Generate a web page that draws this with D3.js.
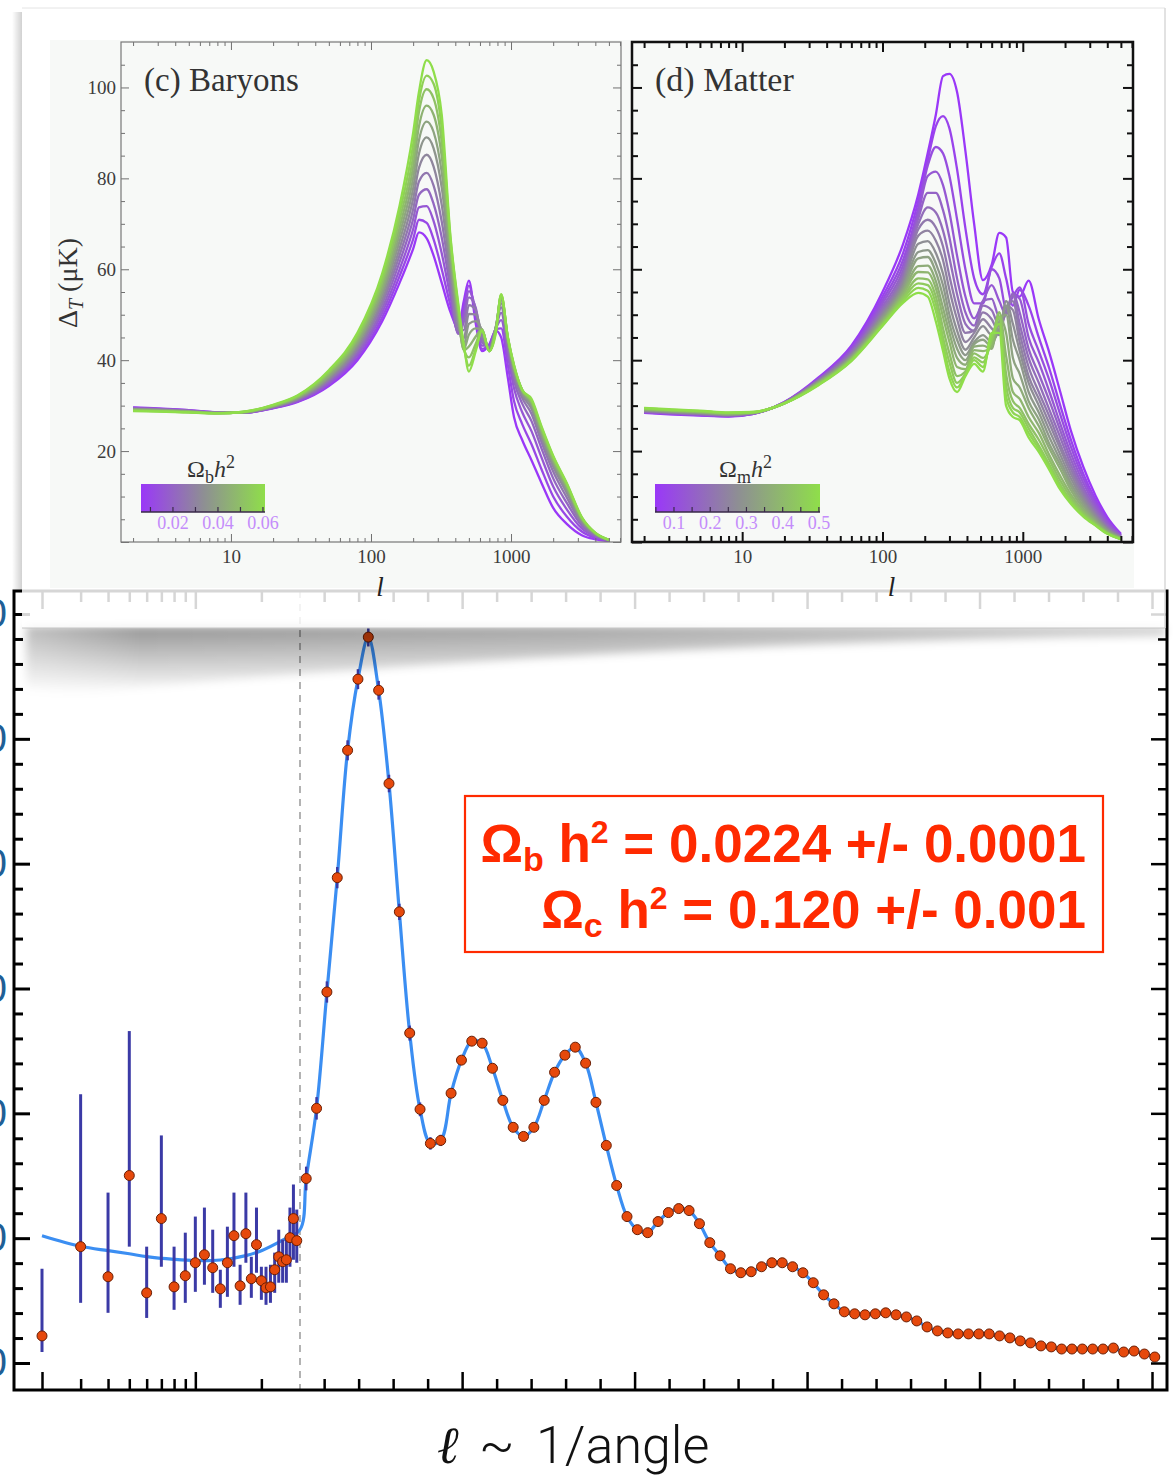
<!DOCTYPE html>
<html>
<head>
<meta charset="utf-8">
<script src="https://cdn.jsdelivr.net/npm/d3@7/dist/d3.min.js"></script>
<style>
  body { margin: 0; background: #ffffff; }
  svg { display: block; }
</style>
</head>
<body>
<svg id="chart" width="1173" height="1475"></svg>
<script>
// ---------- bottom chart: measured TT spectrum, D_l in uK^2 ----------
const lowEll = [2, 3, 4, 5, 6, 7, 8, 9, 10, 11, 12, 13, 14, 15, 16, 17, 18, 19, 20, 21, 22, 23, 24, 25, 26, 27, 28, 29];
const lowDl = [217, 932, 691, 1502, 562, 1157, 610, 699, 803, 867, 763, 594, 803, 1020, 618, 1036, 675, 948, 659, 602, 610, 747, 851, 811, 827, 1004, 1157, 980];
const lowDlLo = [88, 482, 402, 932, 361, 771, 426, 482, 570, 627, 562, 442, 530, 771, 466, 803, 522, 723, 506, 466, 482, 562, 643, 643, 643, 771, 827, 803];
const lowDlHi = [755, 2153, 1365, 2659, 932, 1823, 932, 1044, 1173, 1245, 1068, 747, 1092, 1365, 787, 1365, 851, 1245, 771, 771, 787, 884, 1068, 988, 1012, 1245, 1430, 1229];

const binEll = [48, 78, 108, 138, 168, 198, 228, 258, 288, 318, 348, 378, 408, 438, 468, 498, 528, 558, 588, 618,
  648, 678, 708, 738, 768, 798, 828, 858, 888, 918, 948, 978, 1008, 1038, 1068, 1098, 1128, 1158, 1188, 1218,
  1248, 1278, 1308, 1338, 1368, 1398, 1428, 1458, 1488, 1518, 1548, 1578, 1608, 1638, 1668, 1698, 1728, 1758, 1788, 1818,
  1848, 1878, 1908, 1938, 1968, 1998, 2028, 2058, 2088, 2118, 2148, 2178, 2208, 2238, 2268, 2298, 2328, 2358, 2388, 2418,
  2448, 2478, 2508];
const binDl = [1478, 2040, 2972, 3888, 4908, 5478, 5815, 5389, 4642, 3614,
  2643, 2032, 1759, 1783, 2161, 2426, 2578, 2562, 2361, 2104,
  1888, 1815, 1888, 2104, 2329, 2466, 2530, 2402, 2088, 1743,
  1422, 1173, 1068, 1044, 1133, 1205, 1237, 1221, 1116, 964,
  859, 755, 723, 731, 771, 803, 803, 771, 723, 643,
  546, 474, 410, 394, 386, 394, 402, 386, 369, 337,
  289, 257, 241, 233, 233, 233, 233, 217, 201, 177,
  161, 137, 129, 112, 112, 112, 112, 112, 120, 88,
  96, 72, 48];
const binErr = [95, 90, 85, 85, 80, 80, 75, 75, 70, 65, 60, 55, 50, 45];

const modelEll = [2, 3, 4, 5, 6, 8, 10, 13, 17, 20, 25, 30];
const modelDl = [1020, 935, 900, 875, 852, 830, 820, 825, 860, 900, 985, 1068];

const dlTicks = [0, 1000, 2000, 3000, 4000, 5000, 6000];

// ---------- top panels: Delta_T (uK) vs l ----------
const panelTicks = [10, 100, 1000];
const deltaTTicks = [20, 40, 60, 80, 100];

// (c) baryons, 12 curves, purple (low) -> green (high)
const baryonEll = [2, 3, 5, 8, 12, 20, 30, 50, 80, 120, 160, 200, 220, 250, 280, 320, 370, 420, 460, 500,
  560, 620, 700, 780, 850, 950, 1050, 1200, 1400, 1650, 2000, 2500, 3200, 4000, 5000];
const baryonRows = [
  [29.6, 29.5, 29.5, 29.4, 29.3, 29.2, 29.2, 29.1, 29.0, 28.9, 28.9, 28.8],
  [29.4, 29.3, 29.3, 29.2, 29.1, 29.1, 29.0, 28.9, 28.9, 28.8, 28.8, 28.7],
  [29.0, 29.0, 28.9, 28.9, 28.8, 28.8, 28.7, 28.7, 28.6, 28.6, 28.5, 28.5],
  [28.5, 28.5, 28.5, 28.4, 28.4, 28.4, 28.4, 28.4, 28.3, 28.3, 28.3, 28.3],
  [28.4, 28.4, 28.4, 28.4, 28.5, 28.5, 28.5, 28.5, 28.5, 28.6, 28.6, 28.6],
  [29.4, 29.5, 29.5, 29.6, 29.7, 29.8, 29.8, 29.9, 30.0, 30.0, 30.1, 30.2],
  [30.8, 30.9, 31.1, 31.2, 31.4, 31.5, 31.6, 31.8, 31.9, 32.0, 32.2, 32.3],
  [34.3, 34.6, 34.9, 35.3, 35.6, 35.9, 36.2, 36.5, 36.9, 37.2, 37.5, 37.8],
  [40.0, 40.5, 41.1, 41.6, 42.2, 42.7, 43.3, 43.8, 44.4, 44.9, 45.5, 46.0],
  [48.5, 49.4, 50.4, 51.3, 52.3, 53.2, 54.2, 55.1, 56.1, 57.0, 58.0, 59.0],
  [57.0, 58.5, 60.0, 61.6, 63.1, 64.6, 66.2, 67.7, 69.2, 70.8, 72.4, 74.0],
  [64.5, 66.6, 68.8, 71.0, 73.2, 75.5, 77.8, 80.1, 82.5, 84.9, 87.4, 90.0],
  [68.1, 70.9, 73.6, 76.4, 79.3, 82.3, 85.4, 88.4, 91.4, 94.6, 97.0, 99.0],
  [66.8, 70.2, 73.9, 77.6, 81.2, 85.2, 89.0, 92.5, 96.0, 99.6, 102.6, 106.0],
  [63.0, 66.6, 70.6, 74.4, 78.4, 82.6, 86.6, 90.2, 94.0, 97.6, 100.8, 103.5],
  [57.0, 60.0, 63.5, 67.0, 70.5, 74.2, 78.0, 81.3, 84.8, 88.0, 91.0, 94.0],
  [50.5, 52.0, 53.8, 55.6, 57.4, 59.4, 61.2, 62.8, 64.4, 65.6, 66.5, 67.0],
  [47.0, 46.4, 45.9, 45.8, 46.5, 47.5, 48.5, 49.4, 50.3, 51.2, 51.9, 52.5],
  [53.0, 51.5, 50.0, 48.4, 46.6, 44.8, 43.3, 42.4, 42.2, 42.5, 43.0, 43.5],
  [57.5, 56.4, 55.2, 53.8, 52.1, 50.2, 48.0, 45.6, 43.0, 40.6, 38.8, 37.5],
  [48.0, 49.5, 51.0, 51.5, 51.0, 50.0, 48.6, 47.0, 45.2, 43.6, 42.5, 42.0],
  [42.0, 42.5, 43.2, 44.0, 45.0, 46.0, 46.6, 46.8, 46.8, 46.7, 46.6, 46.5],
  [43.5, 43.4, 43.2, 42.9, 42.6, 42.3, 42.0, 42.0, 42.0, 42.0, 42.0, 42.0],
  [46.5, 46.8, 47.0, 47.2, 47.3, 47.4, 47.4, 47.2, 47.0, 46.8, 46.4, 46.0],
  [45.0, 47.0, 48.8, 50.4, 51.6, 52.5, 53.2, 53.7, 54.0, 54.3, 54.4, 54.5],
  [36.0, 38.8, 41.0, 42.4, 43.3, 43.9, 44.3, 44.6, 44.8, 44.9, 45.0, 45.0],
  [27.5, 31.0, 33.8, 35.5, 36.6, 37.3, 37.8, 38.2, 38.5, 38.7, 38.9, 39.0],
  [22.5, 26.0, 28.6, 30.5, 31.7, 32.4, 32.9, 33.2, 33.4, 33.5, 33.5, 33.5],
  [18.0, 21.5, 24.4, 26.6, 28.2, 29.3, 30.0, 30.5, 30.8, 31.0, 31.2, 31.5],
  [13.0, 16.0, 18.6, 20.6, 22.0, 23.0, 23.7, 24.2, 24.6, 24.9, 25.2, 25.5],
  [7.5, 10.0, 12.2, 14.0, 15.5, 16.6, 17.3, 17.8, 18.2, 18.5, 18.8, 19.0],
  [4.0, 5.6, 7.2, 8.6, 9.8, 10.8, 11.5, 12.0, 12.3, 12.6, 12.8, 13.0],
  [1.5, 2.3, 3.0, 3.6, 4.1, 4.5, 4.8, 5.0, 5.2, 5.3, 5.4, 5.5],
  [0.6, 0.9, 1.2, 1.4, 1.6, 1.7, 1.8, 1.9, 1.9, 2.0, 2.0, 2.0],
  [0.2, 0.25, 0.3, 0.3, 0.35, 0.4, 0.4, 0.4, 0.45, 0.45, 0.5, 0.5]
];
const baryonLegendTicks = [0.02, 0.04, 0.06];

// (d) matter, 17 curves, purple (low) -> green (high)
const matterEll = [2, 3, 5, 8, 12, 20, 35, 60, 100, 140, 180, 210, 240, 270, 300, 340, 390, 450, 520, 600,
  680, 760, 850, 950, 1100, 1300, 1550, 1850, 2200, 2700, 3300, 4000, 5000];
const matterRows = [
  [28.4, 28.5, 28.6, 28.6, 28.7, 28.8, 28.8, 28.9, 29.0, 29.0, 29.1, 29.2, 29.2, 29.3, 29.4, 29.4, 29.5],
  [28.1, 28.2, 28.3, 28.3, 28.4, 28.5, 28.5, 28.6, 28.7, 28.7, 28.8, 28.9, 28.9, 29.0, 29.1, 29.1, 29.2],
  [27.8, 27.9, 28.0, 28.0, 28.1, 28.2, 28.2, 28.3, 28.4, 28.4, 28.5, 28.6, 28.6, 28.7, 28.8, 28.8, 28.9],
  [27.6, 27.7, 27.7, 27.8, 27.8, 27.9, 27.9, 28.0, 28.0, 28.1, 28.1, 28.2, 28.3, 28.3, 28.4, 28.4, 28.5],
  [28.2, 28.2, 28.2, 28.3, 28.3, 28.3, 28.3, 28.4, 28.4, 28.4, 28.4, 28.5, 28.5, 28.5, 28.5, 28.6, 28.6],
  [30.8, 30.8, 30.7, 30.7, 30.7, 30.7, 30.6, 30.6, 30.6, 30.6, 30.6, 30.5, 30.5, 30.5, 30.5, 30.5, 30.5],
  [36.2, 36.0, 35.9, 35.8, 35.7, 35.6, 35.5, 35.4, 35.3, 35.2, 35.1, 35.0, 34.9, 34.8, 34.7, 34.6, 34.5],
  [43.2, 42.9, 42.5, 42.2, 41.9, 41.7, 41.4, 41.2, 41.0, 40.8, 40.6, 40.5, 40.3, 40.2, 40.1, 39.9, 39.8],
  [55.0, 54.0, 53.2, 52.5, 51.8, 51.2, 50.7, 50.2, 49.8, 49.4, 49.0, 48.7, 48.4, 48.1, 47.9, 47.7, 47.5],
  [65.5, 63.5, 62.0, 60.8, 59.7, 58.8, 58.0, 57.3, 56.6, 56.0, 55.4, 54.9, 54.4, 53.9, 53.5, 53.0, 52.6],
  [76.5, 75.0, 73.5, 72.3, 71.2, 70.0, 68.8, 67.4, 65.6, 63.8, 62.4, 60.7, 59.4, 58.0, 56.9, 55.9, 54.8],
  [85.5, 84.0, 82.8, 80.5, 76.8, 73.6, 70.9, 68.5, 66.2, 64.2, 62.7, 60.8, 59.3, 57.8, 56.5, 55.3, 54.0],
  [94.0, 91.5, 86.9, 81.5, 76.8, 72.5, 69.2, 66.3, 63.6, 61.3, 59.4, 57.4, 55.8, 54.0, 52.4, 50.8, 48.5],
  [102.5, 93.7, 85.5, 78.5, 73.0, 68.5, 65.0, 62.0, 59.0, 56.5, 54.0, 51.5, 49.5, 47.0, 45.0, 43.5, 42.0],
  [103.0, 91.0, 80.5, 72.5, 67.0, 62.5, 58.5, 55.5, 52.5, 50.0, 48.0, 46.0, 44.0, 41.5, 39.5, 37.5, 36.0],
  [99.0, 82.0, 71.0, 63.0, 58.0, 54.5, 51.5, 49.0, 46.5, 44.5, 42.5, 40.5, 38.5, 36.5, 35.0, 34.0, 33.0],
  [86.0, 69.0, 60.0, 54.0, 50.5, 48.0, 46.0, 44.0, 42.3, 41.1, 40.0, 39.0, 38.0, 37.5, 37.0, 36.8, 36.5],
  [70.0, 58.0, 52.5, 49.2, 47.6, 46.5, 46.5, 46.0, 45.0, 44.0, 43.5, 43.0, 42.2, 41.5, 40.6, 40.0, 39.2],
  [57.6, 54.5, 52.5, 53.0, 53.0, 52.0, 50.5, 49.0, 47.5, 45.5, 44.5, 43.2, 42.0, 40.5, 39.5, 38.5, 37.5],
  [61.0, 60.5, 60.0, 56.5, 53.5, 51.0, 49.0, 47.0, 45.5, 44.0, 43.0, 42.5, 43.0, 44.0, 44.5, 45.5, 46.0],
  [68.0, 63.5, 58.0, 53.0, 49.5, 47.5, 46.0, 45.5, 46.0, 47.0, 48.5, 49.5, 50.5, 50.5, 49.5, 48.0, 46.0],
  [67.0, 58.0, 51.5, 50.0, 50.0, 50.5, 51.0, 52.0, 53.0, 52.0, 50.0, 46.0, 41.0, 37.0, 34.5, 32.0, 30.0],
  [55.0, 52.0, 54.0, 54.5, 54.8, 54.3, 53.0, 51.0, 48.0, 44.5, 40.5, 36.0, 33.0, 31.0, 29.5, 28.5, 27.5],
  [54.0, 55.5, 56.0, 53.5, 50.5, 48.0, 46.0, 44.0, 42.0, 40.0, 37.0, 34.0, 31.5, 29.5, 28.5, 27.5, 26.8],
  [57.5, 52.0, 48.0, 45.0, 42.5, 40.5, 38.5, 36.5, 35.0, 33.0, 31.0, 29.5, 27.5, 26.0, 25.0, 24.0, 23.0],
  [49.0, 45.0, 42.0, 39.5, 37.0, 35.0, 33.0, 31.5, 30.0, 28.5, 27.0, 25.5, 24.0, 22.5, 21.2, 20.5, 19.8],
  [41.5, 38.0, 35.5, 33.0, 31.0, 29.0, 27.5, 26.0, 24.5, 23.0, 21.5, 20.5, 19.0, 18.0, 17.0, 16.4, 15.8],
  [33.0, 30.0, 28.0, 26.0, 24.5, 23.0, 21.5, 20.5, 19.2, 18.0, 17.0, 16.0, 14.5, 13.5, 12.6, 12.0, 11.5],
  [24.5, 22.5, 21.0, 19.5, 18.2, 17.0, 16.0, 15.0, 14.0, 13.0, 12.2, 11.4, 10.5, 9.8, 9.2, 8.8, 8.4],
  [16.5, 15.0, 14.0, 13.0, 12.0, 11.2, 10.5, 9.8, 9.2, 8.6, 8.0, 7.4, 6.9, 6.4, 6.1, 5.8, 5.6],
  [10.2, 9.3, 8.6, 8.0, 7.4, 6.8, 6.3, 5.9, 5.5, 5.1, 4.8, 4.5, 4.2, 4.0, 3.8, 3.7, 3.6],
  [5.5, 5.0, 4.6, 4.2, 3.8, 3.5, 3.2, 3.0, 2.8, 2.6, 2.4, 2.2, 2.1, 2.0, 1.9, 1.85, 1.8],
  [1.8, 1.6, 1.5, 1.4, 1.3, 1.2, 1.1, 1.0, 0.95, 0.9, 0.85, 0.8, 0.75, 0.7, 0.65, 0.62, 0.6]
];
const matterLegendTicks = [0.1, 0.2, 0.3, 0.4, 0.5];

const serif = '"Liberation Serif", "Times New Roman", serif';
const sans = '"Liberation Sans", Arial, sans-serif';
const svg = d3.select('#chart');
const defs = svg.append('defs');

const purple = '#9a38f8', grey = '#8e8e94', green = '#8fde4a';
const ramp = t => t < 0.5 ? d3.interpolateRgb(purple, grey)(t * 2) : d3.interpolateRgb(grey, green)((t - 0.5) * 2);

// ================= bottom chart =================
const bx = { left: 14, right: 1167, top: 591, bottom: 1390 };
const xLog = d3.scaleLog().domain([2, 30]).range([42, 300]);
const xLin = d3.scaleLinear().domain([30, 2500]).range([300, 1152]);
const xl = l => (l <= 30 ? xLog(l) : xLin(l));
const yDl = d3.scaleLinear().domain([0, 6000]).range([1363, 614]);

const bottom = svg.append('g');

bottom.append('line')
  .attr('x1', xLog(30)).attr('x2', xLog(30))
  .attr('y1', bx.top).attr('y2', bx.bottom)
  .attr('stroke', '#a0a0a0').attr('stroke-width', 1.6).attr('stroke-dasharray', '7,6');

// best-fit model line
const modelPts = modelEll.map((l, i) => [l, modelDl[i]]).concat(binEll.map((l, i) => [l, binDl[i]]));
bottom.append('path')
  .datum(modelPts)
  .attr('d', d3.line().x(d => xl(d[0])).y(d => yDl(d[1])).curve(d3.curveCatmullRom.alpha(0.5)))
  .attr('fill', 'none').attr('stroke', '#3b8ef2').attr('stroke-width', 3.2);

// error bars
bottom.selectAll('line.ebar').data(lowEll).join('line')
  .attr('class', 'ebar')
  .attr('x1', l => xLog(l)).attr('x2', l => xLog(l))
  .attr('y1', (l, i) => yDl(lowDlLo[i])).attr('y2', (l, i) => yDl(lowDlHi[i]))
  .attr('stroke', '#3b3aa6').attr('stroke-width', 3);

bottom.selectAll('line.berr').data(binErr).join('line')
  .attr('class', 'berr')
  .attr('x1', (e, i) => xLin(binEll[i])).attr('x2', (e, i) => xLin(binEll[i]))
  .attr('y1', (e, i) => yDl(binDl[i] - e)).attr('y2', (e, i) => yDl(binDl[i] + e))
  .attr('stroke', '#3b3aa6').attr('stroke-width', 2.5);

const dots = lowEll.map((l, i) => [l, lowDl[i]]).concat(binEll.map((l, i) => [l, binDl[i]]));
bottom.selectAll('circle.pt').data(dots).join('circle')
  .attr('class', 'pt')
  .attr('cx', d => xl(d[0])).attr('cy', d => yDl(d[1]))
  .attr('r', 5)
  .attr('fill', '#e6490c').attr('stroke', '#6a1f05').attr('stroke-width', 1);

// axes
function blackTicks(sel, w) {
  sel.select('.domain').remove();
  sel.selectAll('.tick line').attr('stroke', '#000').attr('stroke-width', w);
}
const yMinor = d3.range(200, 6000, 200).filter(v => v % 1000 !== 0);
bottom.append('g').attr('transform', `translate(${bx.left},0)`)
  .call(d3.axisLeft(yDl).tickValues(dlTicks).tickSize(-16).tickPadding(7).tickFormat(d3.format('d')))
  .call(s => blackTicks(s, 3))
  .call(s => s.selectAll('text').attr('font-family', sans).attr('font-size', 40).attr('fill', '#1f5f96'));
bottom.append('g').attr('transform', `translate(${bx.left},0)`)
  .call(d3.axisLeft(yDl).tickValues(yMinor).tickSize(-9).tickFormat(''))
  .call(s => blackTicks(s, 3));
bottom.append('g').attr('transform', `translate(${bx.right},0)`)
  .call(d3.axisRight(yDl).tickValues(dlTicks).tickSize(-16).tickFormat(''))
  .call(s => blackTicks(s, 2.5));
bottom.append('g').attr('transform', `translate(${bx.right},0)`)
  .call(d3.axisRight(yDl).tickValues(yMinor).tickSize(-9).tickFormat(''))
  .call(s => blackTicks(s, 2.5));

const logMajor = [2, 10], logMinor = [3, 4, 5, 6, 7, 8, 9, 20];
const linMajor = [500, 1000, 1500, 2000, 2500];
const linMinor = d3.range(100, 2500, 100).filter(v => v % 500 !== 0);
[[bx.bottom, d3.axisBottom], [bx.top, d3.axisTop]].forEach(([yy, ax]) => {
  bottom.append('g').attr('transform', `translate(0,${yy})`)
    .call(ax(xLog).tickValues(logMajor).tickSize(-18).tickFormat('')).call(s => blackTicks(s, 2.5));
  bottom.append('g').attr('transform', `translate(0,${yy})`)
    .call(ax(xLog).tickValues(logMinor).tickSize(-11).tickFormat('')).call(s => blackTicks(s, 2.5));
  bottom.append('g').attr('transform', `translate(0,${yy})`)
    .call(ax(xLin).tickValues(linMajor).tickSize(-18).tickFormat('')).call(s => blackTicks(s, 2.5));
  bottom.append('g').attr('transform', `translate(0,${yy})`)
    .call(ax(xLin).tickValues(linMinor).tickSize(-11).tickFormat('')).call(s => blackTicks(s, 2.5));
});

bottom.append('rect')
  .attr('x', bx.left).attr('y', bx.top)
  .attr('width', bx.right - bx.left).attr('height', bx.bottom - bx.top)
  .attr('fill', 'none').attr('stroke', '#000').attr('stroke-width', 3);

// parameter box
const red = '#ff2a00';
bottom.append('rect').attr('x', 465).attr('y', 796).attr('width', 638).attr('height', 156)
  .attr('fill', '#fff').attr('stroke', red).attr('stroke-width', 2.2);
function paramLine(y, sub, rest) {
  const t = bottom.append('text').attr('x', 1086).attr('y', y).attr('text-anchor', 'end')
    .attr('font-family', sans).attr('font-weight', 'bold').attr('font-size', 53).attr('fill', red);
  t.append('tspan').text('Ω');
  t.append('tspan').attr('font-size', 34).attr('dy', 9).text(sub);
  t.append('tspan').attr('dy', -9).text(' h');
  t.append('tspan').attr('font-size', 32).attr('dy', -19).text('2');
  t.append('tspan').attr('dy', 19).text(rest);
}
paramLine(862, 'b', ' = 0.0224 +/- 0.0001');
paramLine(928, 'c', ' = 0.120 +/- 0.001');

// x label
bottom.append('text').attr('x', 437).attr('y', 1463)
  .attr('font-family', '"DejaVu Serif", serif').attr('font-style', 'italic').attr('font-size', 52).attr('fill', '#111')
  .text('ℓ');
bottom.append('text').attr('x', 479).attr('y', 1463)
  .attr('font-family', 'Roboto, sans-serif').attr('font-weight', 300).attr('font-size', 52).attr('fill', '#111')
  .text('~');
bottom.append('text').attr('x', 536).attr('y', 1463)
  .attr('font-family', 'Roboto, sans-serif').attr('font-weight', 300).attr('font-size', 52).attr('fill', '#111')
  .text('1/angle');

// ================= card with the two panels =================
const card = { x: 22, y: 8, w: 1143, h: 620 };

// bottom shadow under the card
const sg = defs.append('linearGradient').attr('id', 'shadowGrad').attr('x1', 0).attr('y1', 0).attr('x2', 0).attr('y2', 1);
sg.append('stop').attr('offset', 0).attr('stop-color', '#000').attr('stop-opacity', 0.42);
sg.append('stop').attr('offset', 1).attr('stop-color', '#000').attr('stop-opacity', 0);
const sh = defs.append('linearGradient').attr('id', 'shadowFade').attr('x1', 0).attr('y1', 0).attr('x2', 1).attr('y2', 0);
sh.append('stop').attr('offset', 0).attr('stop-color', '#fff').attr('stop-opacity', 0.55);
sh.append('stop').attr('offset', 0.12).attr('stop-color', '#fff').attr('stop-opacity', 1);
sh.append('stop').attr('offset', 0.5).attr('stop-color', '#fff').attr('stop-opacity', 0.85);
sh.append('stop').attr('offset', 1).attr('stop-color', '#fff').attr('stop-opacity', 0.45);
defs.append('mask').attr('id', 'shadowMask')
  .append('rect').attr('x', 0).attr('y', 600).attr('width', 1173).attr('height', 120).attr('fill', 'url(#shadowFade)');
defs.append('filter').attr('id', 'blur4').attr('x', '-10%').attr('y', '-50%').attr('width', '120%').attr('height', '200%')
  .append('feGaussianBlur').attr('stdDeviation', 4);
svg.append('g').attr('mask', 'url(#shadowMask)')
  .append('path')
  .attr('d', 'M26,626 L1165,626 L1165,636 C950,638 520,650 70,694 L26,688 Z')
  .attr('fill', 'url(#shadowGrad)').attr('filter', 'url(#blur4)');

// left edge shadow
const lg = defs.append('linearGradient').attr('id', 'leftShadow').attr('x1', 0).attr('y1', 0).attr('x2', 1).attr('y2', 0);
lg.append('stop').attr('offset', 0).attr('stop-color', '#000').attr('stop-opacity', 0);
lg.append('stop').attr('offset', 1).attr('stop-color', '#000').attr('stop-opacity', 0.18);
svg.append('rect').attr('x', 12).attr('y', 12).attr('width', 10).attr('height', 580).attr('fill', 'url(#leftShadow)');

svg.append('rect').attr('x', card.x).attr('y', card.y).attr('width', card.w).attr('height', card.h)
  .attr('fill', '#fff').attr('fill-opacity', 0.84);
svg.append('line').attr('x1', card.x).attr('x2', card.x + card.w).attr('y1', card.y).attr('y2', card.y)
  .attr('stroke', '#e4e4e4').attr('stroke-width', 1);
svg.append('line').attr('x1', card.x + card.w).attr('x2', card.x + card.w).attr('y1', card.y).attr('y2', card.y + card.h)
  .attr('stroke', '#d8d8d8').attr('stroke-width', 1.5);
svg.append('line').attr('x1', card.x).attr('x2', card.x + card.w).attr('y1', card.y + card.h).attr('y2', card.y + card.h)
  .attr('stroke', '#c4c4c4').attr('stroke-width', 1);

svg.append('rect').attr('x', 50).attr('y', 40).attr('width', 1084).attr('height', 548).attr('fill', '#f7f9f7');

function drawPanel(p) {
  const g = svg.append('g');
  const top = 42, bot = 542;
  const x = d3.scaleLog().domain([1.64, 6100]).range([p.left, p.right]);
  const y = d3.scaleLinear().domain([0, 110]).range([bot, top]);
  const n = p.rows[0].length;

  defs.append('clipPath').attr('id', 'clip-' + p.id)
    .append('rect').attr('x', p.left).attr('y', top).attr('width', p.right - p.left).attr('height', bot - top);

  const series = d3.range(n).map(i => p.ell.map((l, j) => [l, p.rows[j][i]]));
  const line = d3.line().x(d => x(d[0])).y(d => y(d[1])).curve(d3.curveMonotoneX);
  g.append('g').attr('clip-path', `url(#clip-${p.id})`)
    .selectAll('path').data(series).join('path')
    .attr('d', line)
    .attr('fill', 'none')
    .attr('stroke', (d, i) => ramp(i / (n - 1)))
    .attr('stroke-width', 2.3);

  const tickCol = p.dark ? '#111' : '#707070';
  const tw = p.dark ? 2 : 1;
  const big = p.dark ? 10 : 8, small = p.dark ? 6 : 4;
  const style = s => {
    s.select('.domain').remove();
    s.selectAll('.tick line').attr('stroke', tickCol).attr('stroke-width', tw);
    s.selectAll('text').attr('font-family', serif).attr('font-size', 19).attr('fill', '#3c3c3c');
  };
  const xMinor = x.ticks().filter(v => !panelTicks.includes(v));
  const yMajor = d3.range(0, 111, 20);
  const yMinor = d3.range(5, 110, 5).filter(v => v % 20 !== 0);

  g.append('g').attr('transform', `translate(0,${bot})`)
    .call(d3.axisBottom(x).tickValues(panelTicks).tickSize(-big).tickPadding(8).tickFormat(d3.format('d'))).call(style);
  g.append('g').attr('transform', `translate(0,${bot})`)
    .call(d3.axisBottom(x).tickValues(xMinor).tickSize(-small).tickFormat('')).call(style);
  g.append('g').attr('transform', `translate(0,${top})`)
    .call(d3.axisTop(x).tickValues(panelTicks).tickSize(-big).tickFormat('')).call(style);
  g.append('g').attr('transform', `translate(0,${top})`)
    .call(d3.axisTop(x).tickValues(xMinor).tickSize(-small).tickFormat('')).call(style);
  g.append('g').attr('transform', `translate(${p.left},0)`)
    .call(d3.axisLeft(y).tickValues(yMajor).tickSize(-big).tickPadding(5)
      .tickFormat(v => (p.yLabels && deltaTTicks.includes(v)) ? v : '')).call(style);
  g.append('g').attr('transform', `translate(${p.left},0)`)
    .call(d3.axisLeft(y).tickValues(yMinor).tickSize(-small).tickFormat('')).call(style);
  g.append('g').attr('transform', `translate(${p.right},0)`)
    .call(d3.axisRight(y).tickValues(yMajor).tickSize(-big).tickFormat('')).call(style);
  g.append('g').attr('transform', `translate(${p.right},0)`)
    .call(d3.axisRight(y).tickValues(yMinor).tickSize(-small).tickFormat('')).call(style);

  g.append('rect').attr('x', p.left).attr('y', top).attr('width', p.right - p.left).attr('height', bot - top)
    .attr('fill', 'none').attr('stroke', p.dark ? '#111' : '#777').attr('stroke-width', p.dark ? 2.5 : 1.2);

  // panel title
  g.append('text').attr('x', p.left + 23).attr('y', 91)
    .attr('font-family', serif).attr('font-size', p.titleSize).attr('fill', '#333').text(p.title);

  // x label
  g.append('text').attr('x', x(100) + 9).attr('y', 596)
    .attr('font-family', serif).attr('font-style', 'italic').attr('font-size', 27).attr('fill', '#222')
    .attr('text-anchor', 'middle').text('l');

  // colour bar legend
  const lgId = 'grad-' + p.id;
  const grad = defs.append('linearGradient').attr('id', lgId);
  grad.selectAll('stop').data([0, 0.5, 1]).join('stop')
    .attr('offset', d => d).attr('stop-color', d => ramp(d));
  const cb = p.legend;
  const cx = d3.scaleLinear().domain(cb.domain).range(cb.range);
  g.append('rect').attr('x', cb.range[0]).attr('y', 484).attr('width', cb.range[1] - cb.range[0]).attr('height', 28)
    .attr('fill', `url(#${lgId})`);
  g.append('line').attr('x1', cb.range[0]).attr('x2', cb.range[1]).attr('y1', 512).attr('y2', 512)
    .attr('stroke', '#3a2a4a').attr('stroke-width', 1.5);
  g.selectAll('line.cbt').data(cx.ticks(cb.nTicks)).join('line').attr('class', 'cbt')
    .attr('x1', d => cx(d)).attr('x2', d => cx(d)).attr('y1', 512).attr('y2', 507)
    .attr('stroke', '#3a2a4a').attr('stroke-width', 1.2);
  g.selectAll('text.cbl').data(cb.labels).join('text').attr('class', 'cbl')
    .attr('x', d => cx(d)).attr('y', 529).attr('text-anchor', 'middle')
    .attr('font-family', serif).attr('font-size', 18).attr('fill', '#c48cfb')
    .text(cb.fmt);
  const tt = g.append('text').attr('x', (cb.range[0] + cb.range[1]) / 2 + 8).attr('y', 477)
    .attr('text-anchor', 'middle').attr('font-family', serif).attr('font-size', 24).attr('fill', '#333');
  tt.append('tspan').text('Ω');
  tt.append('tspan').attr('font-size', 18).attr('dy', 6).text(cb.sub);
  tt.append('tspan').attr('dy', -6).attr('font-style', 'italic').text('h');
  tt.append('tspan').attr('font-size', 18).attr('dy', -9).text('2');
}

drawPanel({
  id: 'baryon', left: 121, right: 621, dark: false, yLabels: true, title: '(c) Baryons', titleSize: 33,
  ell: baryonEll, rows: baryonRows,
  legend: { domain: [0.0058, 0.0609], range: [141, 265], nTicks: 6, labels: baryonLegendTicks, fmt: d3.format('.2f'), sub: 'b' }
});
drawPanel({
  id: 'matter', left: 632, right: 1133, dark: true, yLabels: false, title: '(d) Matter', titleSize: 34,
  ell: matterEll, rows: matterRows,
  legend: { domain: [0.0476, 0.503], range: [655, 820], nTicks: 10, labels: matterLegendTicks, fmt: d3.format('.1f'), sub: 'm' }
});

// y label of the left panel
const yl = svg.append('text').attr('transform', 'translate(77,283) rotate(-90)')
  .attr('text-anchor', 'middle').attr('font-family', serif).attr('font-size', 28).attr('fill', '#333');
yl.append('tspan').text('Δ');
yl.append('tspan').attr('font-style', 'italic').attr('font-size', 20).attr('dy', 6).text('T');
yl.append('tspan').attr('dy', -6).text(' (μK)');
</script>
</body>
</html>
